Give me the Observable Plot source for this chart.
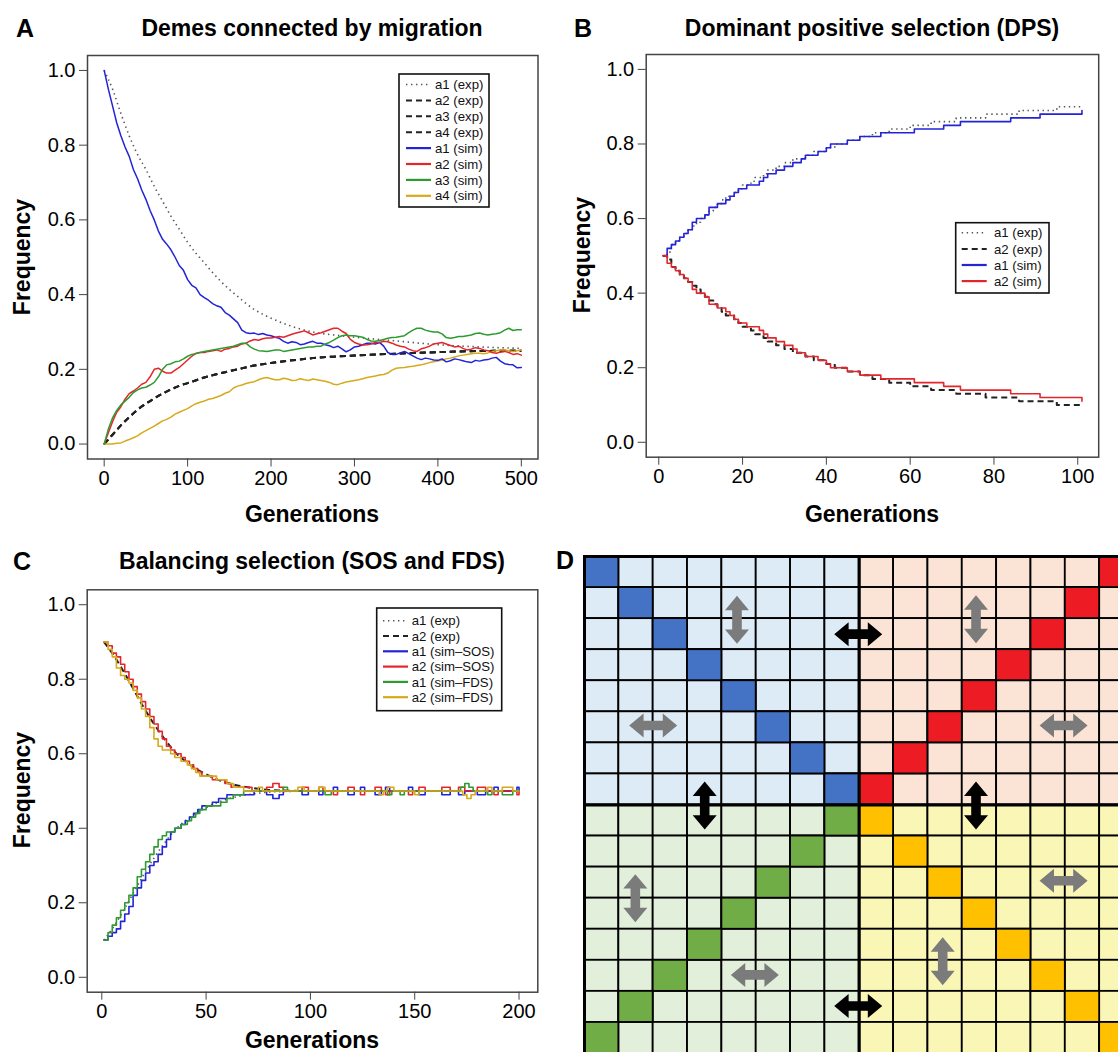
<!DOCTYPE html>
<html><head><meta charset="utf-8">
<script src="https://cdn.jsdelivr.net/npm/d3@7"></script>
<script src="https://cdn.jsdelivr.net/npm/@observablehq/plot@0.6"></script>
<style>
html,body{margin:0;padding:0;background:#fff;overflow:hidden;}
#root{position:relative;width:1118px;height:1052px;font-family:"Liberation Sans",Arial,sans-serif;overflow:hidden;}
#root svg{position:absolute;}
.lbl{position:absolute;font-weight:bold;white-space:nowrap;transform:translate(-50%,-50%);color:#000;line-height:1;}
.rot{transform:translate(-50%,-50%) rotate(-90deg);}
</style></head><body><div id="root"></div>
<script>
// ---------------- Panel A data (Demes connected by migration) ----------------
const genA = [0,5,10,15,20,25,30,35,40,45,50,55,60,65,70,75,80,85,90,95,100,105,110,115,120,125,130,135,140,145,150,155,160,165,170,175,180,185,190,195,200,205,210,215,220,225,230,235,240,245,250,255,260,265,270,275,280,285,290,295,300,305,310,315,320,325,330,335,340,345,350,355,360,365,370,375,380,385,390,395,400,405,410,415,420,425,430,435,440,445,450,455,460,465,470,475,480,485,490,495,500];
const a1SimA = [1.00,0.95,0.905,0.86,0.825,0.795,0.77,0.735,0.71,0.68,0.655,0.625,0.60,0.57,0.548,0.535,0.52,0.50,0.478,0.465,0.44,0.425,0.418,0.40,0.392,0.385,0.376,0.37,0.366,0.352,0.345,0.335,0.325,0.305,0.298,0.296,0.297,0.293,0.296,0.292,0.29,0.286,0.283,0.275,0.27,0.274,0.272,0.266,0.268,0.272,0.275,0.27,0.27,0.266,0.263,0.258,0.262,0.255,0.247,0.252,0.26,0.262,0.266,0.27,0.27,0.268,0.272,0.262,0.245,0.24,0.24,0.244,0.248,0.242,0.236,0.23,0.226,0.23,0.228,0.225,0.224,0.228,0.22,0.223,0.228,0.226,0.223,0.22,0.218,0.224,0.222,0.225,0.226,0.23,0.232,0.222,0.215,0.213,0.212,0.204,0.205];
const a2SimA = [0.00,0.03,0.06,0.085,0.10,0.12,0.135,0.142,0.15,0.16,0.165,0.18,0.20,0.203,0.195,0.19,0.19,0.198,0.205,0.215,0.225,0.235,0.243,0.245,0.245,0.248,0.25,0.252,0.248,0.254,0.256,0.26,0.262,0.268,0.27,0.276,0.28,0.278,0.282,0.284,0.284,0.286,0.288,0.286,0.29,0.294,0.297,0.30,0.303,0.298,0.292,0.295,0.298,0.302,0.306,0.31,0.31,0.302,0.296,0.28,0.272,0.268,0.265,0.266,0.268,0.272,0.272,0.275,0.274,0.27,0.265,0.262,0.26,0.254,0.25,0.248,0.255,0.258,0.262,0.268,0.27,0.272,0.268,0.264,0.26,0.262,0.256,0.252,0.254,0.258,0.256,0.252,0.25,0.245,0.243,0.246,0.248,0.245,0.24,0.242,0.238];
const a3SimA = [0.00,0.04,0.07,0.09,0.105,0.115,0.125,0.138,0.145,0.15,0.152,0.158,0.165,0.18,0.20,0.212,0.215,0.22,0.222,0.228,0.235,0.24,0.242,0.245,0.248,0.25,0.252,0.254,0.256,0.258,0.26,0.262,0.266,0.27,0.27,0.26,0.254,0.25,0.249,0.248,0.25,0.252,0.252,0.248,0.25,0.252,0.254,0.256,0.258,0.26,0.26,0.262,0.262,0.268,0.272,0.278,0.285,0.29,0.292,0.29,0.29,0.288,0.286,0.28,0.276,0.275,0.277,0.28,0.283,0.285,0.286,0.288,0.29,0.298,0.305,0.31,0.31,0.305,0.302,0.30,0.30,0.295,0.285,0.283,0.285,0.288,0.288,0.29,0.292,0.296,0.297,0.294,0.292,0.294,0.295,0.298,0.305,0.31,0.304,0.306,0.306];
const a4SimA = [0.00,0.00,0.00,0.002,0.003,0.008,0.012,0.017,0.022,0.03,0.036,0.042,0.048,0.055,0.062,0.066,0.072,0.08,0.085,0.09,0.095,0.102,0.108,0.112,0.115,0.12,0.122,0.126,0.13,0.136,0.14,0.15,0.155,0.158,0.162,0.165,0.167,0.172,0.176,0.178,0.175,0.172,0.172,0.176,0.174,0.17,0.171,0.175,0.172,0.17,0.174,0.172,0.17,0.168,0.165,0.16,0.159,0.163,0.166,0.168,0.17,0.172,0.175,0.178,0.18,0.182,0.185,0.186,0.19,0.198,0.203,0.204,0.205,0.207,0.208,0.21,0.212,0.215,0.218,0.22,0.222,0.225,0.228,0.23,0.233,0.236,0.238,0.24,0.242,0.243,0.243,0.242,0.244,0.248,0.25,0.252,0.252,0.25,0.248,0.25,0.252];
const genAexp = [0,10,20,30,40,50,60,70,80,90,100,120,140,160,180,200,225,250,275,300,350,400,450,500];
const a1ExpA = [1.00,0.95,0.885,0.825,0.775,0.735,0.69,0.65,0.61,0.575,0.54,0.485,0.435,0.395,0.36,0.337,0.315,0.30,0.292,0.286,0.276,0.266,0.26,0.256];
const a2ExpA = [0.00,0.025,0.05,0.072,0.092,0.108,0.122,0.135,0.146,0.156,0.163,0.178,0.19,0.20,0.21,0.217,0.224,0.23,0.234,0.237,0.242,0.246,0.249,0.25];

// ---------------- Panel B data (DPS) : [generation, frequency] ----------------
const bA1Exp = [[1,0.50],[2,0.51],[3,0.53],[4,0.54],[5,0.55],[6,0.56],[7,0.57],[8,0.58],[9,0.59],[10,0.60],[11,0.61],[12,0.62],[13,0.63],[14,0.64],[15,0.65],[16,0.66],[18,0.67],[19,0.68],[20,0.69],[22,0.70],[23,0.71],[25,0.72],[26,0.73],[28,0.74],[30,0.75],[32,0.76],[35,0.77],[37,0.78],[40,0.79],[42,0.80],[45,0.81],[48,0.82],[51,0.83],[55,0.84],[60,0.85],[65,0.86],[71,0.87],[78,0.88],[86,0.89],[95,0.90],[101,0.90]];
const bA2Exp = [[1,0.50],[2,0.49],[3,0.47],[4,0.46],[5,0.45],[6,0.44],[7,0.43],[8,0.42],[9,0.41],[10,0.40],[11,0.39],[12,0.38],[13,0.37],[14,0.36],[15,0.35],[16,0.34],[18,0.33],[19,0.32],[20,0.31],[22,0.30],[23,0.29],[25,0.28],[26,0.27],[28,0.26],[30,0.25],[32,0.24],[35,0.23],[37,0.22],[40,0.21],[42,0.20],[45,0.19],[48,0.18],[51,0.17],[55,0.16],[60,0.15],[65,0.14],[71,0.13],[78,0.12],[86,0.11],[95,0.10],[101,0.10]];
const bA1Sim = [[1,0.50],[2,0.52],[3,0.53],[4,0.54],[5,0.55],[6,0.56],[7,0.57],[8,0.59],[9,0.60],[11,0.61],[12,0.63],[14,0.64],[16,0.65],[17,0.66],[18,0.67],[19,0.68],[21,0.69],[24,0.70],[25,0.71],[26,0.72],[28,0.73],[30,0.74],[32,0.75],[34,0.76],[35,0.77],[38,0.78],[40,0.79],[41,0.80],[45,0.81],[48,0.82],[53,0.83],[61,0.84],[68,0.85],[72,0.86],[84,0.87],[91,0.88],[100,0.88],[101,0.89]];
const bA2Sim = [[1,0.50],[2,0.48],[3,0.47],[4,0.46],[5,0.45],[6,0.44],[7,0.43],[8,0.41],[9,0.40],[11,0.39],[12,0.37],[14,0.36],[16,0.35],[17,0.34],[18,0.33],[19,0.32],[21,0.31],[24,0.30],[25,0.29],[26,0.28],[28,0.27],[30,0.26],[32,0.25],[33,0.24],[35,0.23],[38,0.22],[40,0.21],[41,0.20],[45,0.19],[48,0.18],[53,0.17],[61,0.16],[68,0.15],[72,0.14],[84,0.13],[91,0.12],[100,0.12],[101,0.11]];

// ---------------- Panel C data (SOS and FDS) : [generation, frequency] ----------------
const cA1Exp = [[1,0.10],[5,0.13],[10,0.175],[15,0.225],[20,0.275],[25,0.32],[30,0.36],[35,0.395],[40,0.42],[45,0.44],[50,0.455],[55,0.468],[60,0.478],[65,0.485],[70,0.49],[75,0.494],[80,0.497],[90,0.499],[100,0.50],[200,0.50]];
const cA2Exp = [[1,0.90],[5,0.87],[10,0.825],[15,0.775],[20,0.725],[25,0.68],[30,0.64],[35,0.605],[40,0.58],[45,0.56],[50,0.545],[55,0.532],[60,0.522],[65,0.515],[70,0.51],[75,0.506],[80,0.503],[90,0.501],[100,0.50],[200,0.50]];
const cA1Sos = [[1,0.10],[3,0.11],[5,0.12],[7,0.13],[9,0.15],[11,0.17],[13,0.19],[15,0.22],[17,0.24],[19,0.26],[21,0.28],[23,0.30],[25,0.31],[27,0.33],[29,0.35],[31,0.37],[33,0.39],[35,0.40],[38,0.41],[40,0.42],[42,0.43],[44,0.44],[46,0.45],[48,0.46],[53,0.47],[56,0.48],[60,0.49],[73,0.50],[79,0.49],[82,0.48],[85,0.49],[87,0.50],[96,0.49],[99,0.50],[104,0.49],[106,0.50],[111,0.51],[113,0.50],[118,0.49],[121,0.50],[124,0.51],[126,0.50],[131,0.49],[134,0.50],[136,0.51],[138,0.50],[147,0.51],[149,0.50],[152,0.49],[155,0.50],[163,0.49],[167,0.50],[171,0.49],[174,0.50],[180,0.49],[184,0.50],[188,0.51],[190,0.50],[199,0.51],[200,0.50]];
const cA2Sos = [[1,0.90],[3,0.89],[5,0.87],[7,0.86],[9,0.84],[11,0.82],[13,0.80],[15,0.78],[17,0.76],[19,0.74],[21,0.72],[23,0.70],[25,0.68],[27,0.66],[29,0.64],[31,0.62],[33,0.61],[35,0.60],[38,0.59],[40,0.58],[42,0.57],[44,0.56],[46,0.55],[48,0.54],[53,0.53],[59,0.52],[62,0.51],[72,0.50],[79,0.51],[82,0.52],[85,0.51],[87,0.50],[96,0.51],[99,0.50],[104,0.51],[106,0.50],[111,0.49],[113,0.50],[118,0.51],[121,0.50],[124,0.49],[126,0.50],[131,0.51],[134,0.50],[136,0.49],[138,0.50],[147,0.49],[149,0.50],[152,0.51],[155,0.50],[163,0.51],[167,0.50],[171,0.51],[174,0.50],[180,0.51],[184,0.50],[188,0.49],[190,0.50],[199,0.49],[200,0.50]];
const cA1Fds = [[1,0.10],[3,0.12],[5,0.14],[7,0.16],[9,0.18],[11,0.20],[13,0.22],[15,0.24],[17,0.27],[19,0.29],[21,0.31],[23,0.33],[25,0.35],[27,0.37],[29,0.38],[31,0.39],[35,0.40],[38,0.41],[41,0.42],[43,0.43],[45,0.44],[47,0.45],[50,0.46],[57,0.47],[60,0.48],[63,0.49],[68,0.50],[87,0.51],[89,0.50],[107,0.49],[110,0.50],[137,0.49],[139,0.50],[143,0.49],[145,0.50],[172,0.51],[174,0.52],[176,0.51],[178,0.50],[185,0.49],[187,0.50],[192,0.49],[197,0.50],[200,0.50]];
const cA2Fds = [[1,0.90],[3,0.88],[5,0.86],[7,0.83],[9,0.81],[11,0.80],[13,0.79],[15,0.77],[17,0.75],[19,0.72],[21,0.70],[23,0.67],[25,0.64],[27,0.62],[29,0.61],[33,0.60],[35,0.59],[38,0.58],[41,0.57],[43,0.56],[45,0.55],[47,0.54],[55,0.53],[60,0.52],[63,0.51],[68,0.50],[75,0.51],[77,0.50],[94,0.51],[97,0.50],[104,0.51],[107,0.50],[133,0.49],[135,0.50],[137,0.51],[140,0.50],[150,0.49],[152,0.50],[173,0.49],[175,0.48],[177,0.49],[179,0.50],[185,0.51],[187,0.50],[192,0.51],[197,0.50],[200,0.50]];

// ---------------- Panel D data (16 x 16 demes grid) : [row, col] ----------------
const demeBg = ["#ddebf7","#fbe4d6","#e2efda","#faf6b6"];
const demeFg = ["#4472c4","#ed1c24","#70ad47","#ffc000"];
const blueCells   = [[0,0],[1,1],[2,2],[3,3],[4,4],[5,5],[6,6],[7,7]];
const redCells    = [[0,15],[1,14],[2,13],[3,12],[4,11],[5,10],[6,9],[7,8]];
const greenCells  = [[8,7],[9,6],[10,5],[11,4],[12,3],[13,2],[14,1],[15,0]];
const orangeCells = [[8,8],[9,9],[10,10],[11,11],[12,12],[13,13],[14,14],[15,15]];
const arrows = [
  {col:4.44, row:2.04, dir:"v", color:"#7b7b7b"},
  {col:2.0,  row:5.44, dir:"h", color:"#7b7b7b"},
  {col:11.4, row:2.02, dir:"v", color:"#7b7b7b"},
  {col:13.95,row:5.44, dir:"h", color:"#7b7b7b"},
  {col:1.48, row:11.0, dir:"v", color:"#7b7b7b"},
  {col:4.96, row:13.47,dir:"h", color:"#7b7b7b"},
  {col:13.95,row:10.44,dir:"h", color:"#7b7b7b"},
  {col:10.43,row:13.03,dir:"v", color:"#7b7b7b"},
  {col:7.97, row:2.5,  dir:"h", color:"#000000"},
  {col:3.5,  row:8.02, dir:"v", color:"#000000"},
  {col:11.4, row:8.02, dir:"v", color:"#000000"},
  {col:7.97, row:14.47,dir:"h", color:"#000000"}
];

// ---------------- styling ----------------
const COL = {blue:"#2323d8", red:"#e3262b", green:"#2e9b31", gold:"#d6aa1a", dot:"#555555", dash:"#222222"};
const FONT = "'Liberation Sans', Arial, sans-serif";
const root = document.getElementById("root");

function label(text, x, y, size, rotate) {
  const d = document.createElement("div");
  d.className = "lbl" + (rotate ? " rot" : "");
  d.style.left = x + "px"; d.style.top = y + "px"; d.style.fontSize = size + "px";
  d.textContent = text; root.appendChild(d);
}

const toRows = (xs, ys) => xs.map((g, i) => ({g, v: ys[i]}));
const pairRows = (arr) => arr.map(([g, v]) => ({g, v}));

function linePanel(cfg) {
  const marks = [
    Plot.frame({stroke:"#444", strokeWidth:1.5}),
    Plot.axisX(cfg.xTicks, {tickSize:8, tickPadding:4, stroke:"#444", label:null}),
    Plot.axisY([0,0.2,0.4,0.6,0.8,1.0], {tickSize:8, tickPadding:4, stroke:"#444", label:null, tickFormat: d => d.toFixed(1)})
  ];
  for (const s of cfg.series) {
    marks.push(Plot.line(s.data, {x:"g", y:"v", stroke:s.stroke, strokeWidth:s.width,
      strokeDasharray:s.dash || null, curve:s.curve || "linear", strokeLinecap: s.dash ? "butt" : "round"}));
  }
  const svg = Plot.plot({
    width: cfg.width, height: cfg.height,
    marginLeft: cfg.ml, marginRight: cfg.mr, marginTop: cfg.mt, marginBottom: cfg.mb,
    x: {domain: cfg.xDomain}, y: {domain: [-0.04, 1.04]},
    style: {fontFamily: FONT, fontSize: "20px", color: "#000", background: "transparent", overflow: "visible"},
    marks
  });
  svg.style.left = cfg.left + "px"; svg.style.top = cfg.top + "px";
  // legend
  const L = cfg.legend;
  const g = d3.select(svg).append("g").attr("font-family", FONT).attr("font-size", 13.2).attr("text-anchor", "start");
  g.append("rect").attr("x", L.x - cfg.left).attr("y", L.y - cfg.top).attr("width", L.w).attr("height", L.h)
    .attr("fill", "white").attr("stroke", "#111").attr("stroke-width", 1.6);
  cfg.series.slice().sort((a, b) => a.order - b.order).forEach((s, i) => {
    const y = L.y0 + i * L.dy - cfg.top;
    g.append("line").attr("x1", L.sx1 - cfg.left).attr("x2", L.sx2 - cfg.left).attr("y1", y).attr("y2", y)
      .attr("stroke", s.stroke).attr("stroke-width", s.dash ? s.width : 2.2).attr("stroke-dasharray", s.dash || null);
    g.append("text").attr("x", L.tx - cfg.left).attr("y", y).attr("dy", "0.35em").attr("text-anchor", "start")
      .attr("fill", "#111").text(s.name);
  });
  root.appendChild(svg);
}

const DOT = "1.4,3.6", DASH = "6,4";

// Panel A
linePanel({
  left:0, top:0, width:559, height:530, ml:87, mr:21.5, mt:55, mb:71.5,
  xDomain:[-20, 520], xTicks:[0,100,200,300,400,500],
  series: [
    {name:"a1 (exp)", order:0, data: toRows(genAexp, a1ExpA), stroke:COL.dot, width:1.6, dash:DOT, curve:"monotone-x"},
    {name:"a2 (exp)", order:1, data: toRows(genAexp, a2ExpA), stroke:COL.dash, width:2, dash:DASH, curve:"monotone-x"},
    {name:"a3 (exp)", order:2, data: toRows(genAexp, a2ExpA), stroke:COL.dash, width:2, dash:DASH, curve:"monotone-x"},
    {name:"a4 (exp)", order:3, data: toRows(genAexp, a2ExpA), stroke:COL.dash, width:2, dash:DASH, curve:"monotone-x"},
    {name:"a4 (sim)", order:7, data: toRows(genA, a4SimA), stroke:COL.gold, width:1.5},
    {name:"a1 (sim)", order:4, data: toRows(genA, a1SimA), stroke:COL.blue, width:1.5},
    {name:"a2 (sim)", order:5, data: toRows(genA, a2SimA), stroke:COL.red, width:1.5},
    {name:"a3 (sim)", order:6, data: toRows(genA, a3SimA), stroke:COL.green, width:1.5}
  ],
  legend: {x:399, y:74, w:90, h:133, y0:84.5, dy:15.9, sx1:406, sx2:431, tx:435}
});

// Panel B
linePanel({
  left:559, top:0, width:559, height:530, ml:86.7, mr:19.8, mt:54, mb:73.3,
  xDomain:[-3, 105], xTicks:[0,20,40,60,80,100],
  series: [
    {name:"a1 (exp)", order:0, data: pairRows(bA1Exp), stroke:COL.dot, width:1.6, dash:DOT, curve:"step-after"},
    {name:"a2 (exp)", order:1, data: pairRows(bA2Exp), stroke:COL.dash, width:2, dash:DASH, curve:"step-after"},
    {name:"a1 (sim)", order:2, data: pairRows(bA1Sim), stroke:COL.blue, width:1.6, curve:"step-after"},
    {name:"a2 (sim)", order:3, data: pairRows(bA2Sim), stroke:COL.red, width:1.6, curve:"step-after"}
  ],
  legend: {x:955.7, y:222.7, w:93.3, h:70.3, y0:232.8, dy:16.1, sx1:961.7, sx2:986.7, tx:994}
});

// Panel C
linePanel({
  left:0, top:530, width:559, height:522, ml:86.7, mr:21.7, mt:59.3, mb:60.3,
  xDomain:[-7, 209], xTicks:[0,50,100,150,200],
  series: [
    {name:"a1 (exp)", order:0, data: pairRows(cA1Exp), stroke:COL.dot, width:1.6, dash:DOT, curve:"monotone-x"},
    {name:"a2 (exp)", order:1, data: pairRows(cA2Exp), stroke:COL.dash, width:2, dash:DASH, curve:"monotone-x"},
    {name:"a1 (sim\u2013SOS)", order:2, data: pairRows(cA1Sos), stroke:COL.blue, width:1.6, curve:"step-after"},
    {name:"a2 (sim\u2013SOS)", order:3, data: pairRows(cA2Sos), stroke:COL.red, width:1.6, curve:"step-after"},
    {name:"a1 (sim\u2013FDS)", order:4, data: pairRows(cA1Fds), stroke:COL.green, width:1.6, curve:"step-after"},
    {name:"a2 (sim\u2013FDS)", order:5, data: pairRows(cA2Fds), stroke:COL.gold, width:1.6, curve:"step-after"}
  ],
  legend: {x:376.7, y:608, w:125, h:102.7, y0:620.7, dy:15.3, sx1:383, sx2:408, tx:411.7}
});

// Panel D
(function () {
  const cells = [];
  for (let r = 0; r < 16; r++) for (let c = 0; c < 16; c++) {
    const q = (r < 8 ? 0 : 2) + (c < 8 ? 0 : 1);
    cells.push({row:r, col:c, fill: demeBg[q]});
  }
  const hi = [[blueCells,0],[redCells,1],[greenCells,2],[orangeCells,3]]
    .flatMap(([list, q]) => list.map(([r, c]) => ({row:r, col:c, fill: demeFg[q]})));
  function arrowSymbol(vertical) {
    return {draw(ctx, size) {
      const r = Math.sqrt(size / Math.PI);
      const L = r, hl = 0.6 * r, hw = 0.5 * r, sw = 0.2 * r;
      const pts = [[-L,0],[-L+hl,-hw],[-L+hl,-sw],[L-hl,-sw],[L-hl,-hw],[L,0],[L-hl,hw],[L-hl,sw],[-L+hl,sw],[-L+hl,hw]];
      pts.forEach(([x, y], i) => { const p = vertical ? [y, x] : [x, y]; i ? ctx.lineTo(p[0], p[1]) : ctx.moveTo(p[0], p[1]); });
      ctx.closePath();
    }};
  }
  const svg = Plot.plot({
    width: 552, height: 498, marginLeft: 1, marginRight: 1.5, marginTop: 1, marginBottom: 0,
    x: {domain: [0, 16], axis: null}, y: {domain: [16, 0], axis: null},
    color: {type: "identity"},
    style: {background: "transparent", overflow: "visible"},
    marks: [
      Plot.rect(cells, {x1: "col", x2: d => d.col + 1, y1: "row", y2: d => d.row + 1, fill: "fill", stroke: "#000", strokeWidth: 1.8}),
      Plot.rect(hi, {x1: "col", x2: d => d.col + 1, y1: "row", y2: d => d.row + 1, fill: "fill", stroke: "#000", strokeWidth: 1.8}),
      Plot.ruleX([0, 8], {stroke: "#000", strokeWidth: 3}),
      Plot.ruleY([0, 8], {stroke: "#000", strokeWidth: 3}),
      Plot.dot(arrows.filter(a => a.dir === "v"), {x: "col", y: "row", r: 24, symbol: arrowSymbol(true), fill: "color", stroke: "none"}),
      Plot.dot(arrows.filter(a => a.dir === "h"), {x: "col", y: "row", r: 24, symbol: arrowSymbol(false), fill: "color", stroke: "none"})
    ]
  });
  svg.style.left = "583px"; svg.style.top = "555px";
  root.appendChild(svg);
})();

// ---------------- text ----------------
label("A", 25, 28, 25); label("B", 583, 28, 25); label("C", 22, 561, 25); label("D", 565, 560, 25);
label("Demes connected by migration", 312, 28, 23);
label("Dominant positive selection (DPS)", 872, 28, 23);
label("Balancing selection (SOS and FDS)", 312, 561, 23);
label("Generations", 312, 514, 23); label("Generations", 872, 514, 23); label("Generations", 312, 1040, 23);
label("Frequency", 22, 257, 23, true); label("Frequency", 582, 255, 23, true); label("Frequency", 22, 790, 23, true);
</script></body></html>
